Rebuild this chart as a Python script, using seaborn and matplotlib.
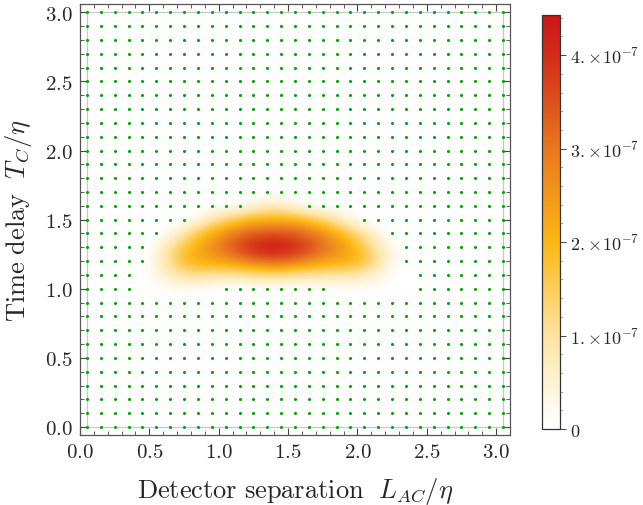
import numpy as np
import pandas as pd
import matplotlib as mpl
import matplotlib.pyplot as plt
import seaborn as sns
from matplotlib.colors import LinearSegmentedColormap, Normalize
from matplotlib.ticker import MultipleLocator, FixedLocator

sns.set_theme(style="ticks")
plt.rcParams["mathtext.fontset"] = "cm"
plt.rcParams["font.family"] = ["DejaVu Serif"]

# sample grid (the green points)
x_grid = np.round(np.arange(31) * 0.1 + 0.05, 2)
y_grid = np.round(np.arange(31) * 0.1, 2)

# non-zero block of the density, in units of 1e-7
x_block = [0.45, 0.55, 0.65, 0.75, 0.85, 0.95, 1.05, 1.15, 1.25, 1.35,
           1.45, 1.55, 1.65, 1.75, 1.85, 1.95, 2.05, 2.15, 2.25, 2.35]
y_block = [1.0, 1.1, 1.2, 1.3, 1.4, 1.5, 1.6]
row_100 = [0.05, 0.1, 0.15, 0.15, 0.1, 0.05, 0, 0, 0, 0,
           0, 0, 0, 0, 0.05, 0.1, 0.1, 0.1, 0.05, 0.02]
row_110 = [0.05, 0.3, 0.7, 1.0, 1.1, 1.0, 0.9, 0.9, 1.0, 1.1,
           1.1, 1.0, 0.9, 0.9, 0.9, 0.9, 0.7, 0.4, 0.15, 0.03]
row_120 = [0, 0.4, 1.2, 1.9, 2.2, 2.3, 2.5, 2.8, 3.1, 3.3,
           3.3, 3.1, 2.8, 2.5, 2.3, 2.2, 1.8, 1.1, 0.3, 0]
row_130 = [0, 0.3, 1.0, 1.7, 2.2, 2.7, 3.2, 3.7, 4.1, 4.35,
           4.35, 4.1, 3.7, 3.2, 2.7, 2.2, 1.6, 0.9, 0.25, 0]
row_140 = [0, 0, 0.3, 0.9, 1.6, 2.2, 2.7, 3.1, 3.4, 3.5,
           3.5, 3.4, 3.1, 2.7, 2.2, 1.6, 0.9, 0.3, 0, 0]
row_150 = [0, 0, 0, 0, 0.3, 0.8, 1.3, 1.7, 2.0, 2.1,
           2.1, 2.0, 1.7, 1.3, 0.8, 0.3, 0, 0, 0, 0]
row_160 = [0, 0, 0, 0, 0, 0, 0, 0, 0.3, 0.6,
           0.6, 0.3, 0, 0, 0, 0, 0, 0, 0, 0]
vmax = 4.43e-7

cbar_ticks = [0, 1e-7, 2e-7, 3e-7, 4e-7]
cbar_labels = ["$0$", r"$1.\!\times\!10^{-7}$", r"$2.\!\times\!10^{-7}$",
               r"$3.\!\times\!10^{-7}$", r"$4.\!\times\!10^{-7}$"]

block = pd.DataFrame([row_100, row_110, row_120, row_130, row_140, row_150, row_160],
                     index=y_block, columns=x_block) * 1e-7
Z = pd.DataFrame(0.0, index=y_grid, columns=x_grid)
Z.loc[block.index, block.columns] = block.values

pts = Z.stack().reset_index()
pts.columns = ["y", "x", "v"]
pts = pts[pts["v"] == 0]

cmap = LinearSegmentedColormap.from_list("sun", [
    (0.0, (1, 1, 1, 0)),
    (0.012, (1, 1, 1, 1)),
    (0.22, "#fee4a3"),
    (0.45, "#fdb714"),
    (0.68, "#e9761f"),
    (0.9, "#d42c19"),
    (1.0, "#cd1517"),
])
cmap.set_under((1, 1, 1, 0))

W, H = 643, 506
fig = plt.figure(figsize=(W / 100, H / 100), dpi=100)
ax = fig.add_axes([80 / W, (H - 436) / H, 430 / W, 431 / H])
cax = fig.add_axes([542 / W, (H - 430) / H, 18 / W, 414 / H])

im = ax.imshow(Z.values, origin="lower", extent=(0.0, 3.1, -0.05, 3.05),
               cmap=cmap, norm=Normalize(0, vmax), interpolation="bicubic",
               interpolation_stage="data", aspect="auto", zorder=2)

ax.add_patch(plt.Rectangle((0.05, 0.0), 3.0, 3.0, fill=False, ec="#c8c8c8",
                           lw=0.9, zorder=1))
sns.scatterplot(data=pts, x="x", y="y", ax=ax, color="#00a800", s=5,
                linewidth=0, zorder=3, legend=False)

ax.set_xlim(0.0, 3.1)
ax.set_ylim(-0.058, 3.06)
ax.xaxis.set_major_locator(MultipleLocator(0.5))
ax.xaxis.set_minor_locator(MultipleLocator(0.1))
ax.yaxis.set_major_locator(MultipleLocator(0.5))
ax.yaxis.set_minor_locator(MultipleLocator(0.1))
ax.set_xticklabels([f"${t:.1f}$" for t in ax.get_xticks()])
ax.set_yticklabels([f"${t:.1f}$" for t in ax.get_yticks()])
ax.tick_params(which="both", direction="in", top=True, right=True,
               color="#444444", labelsize=15, pad=5)
ax.tick_params(which="major", length=5, width=0.8)
ax.tick_params(which="minor", length=2.8, width=0.6)
for s in ax.spines.values():
    s.set_color("#555555")
    s.set_linewidth(0.9)

ax.set_xlabel(r"$\mathrm{Detector\ separation}\ \ L_{AC}/\eta$", fontsize=19, labelpad=10)
ax.set_ylabel(r"$\mathrm{Time\ delay}\ \ T_C/\eta$", fontsize=19, labelpad=8)

cb = fig.colorbar(im, cax=cax)
cb.set_ticks(cbar_ticks)
cb.set_ticklabels(cbar_labels)
cb.ax.yaxis.set_minor_locator(FixedLocator(np.arange(0, 4.43e-7, 0.2e-7)))
cb.ax.tick_params(which="major", length=4, width=0.7, labelsize=13, pad=3,
                  color="#444444")
cb.ax.tick_params(which="minor", length=2, width=0.5, color="#888888")
cb.outline.set_edgecolor("#333333")
cb.outline.set_linewidth(0.9)

fig.savefig("out.png", dpi=100)
